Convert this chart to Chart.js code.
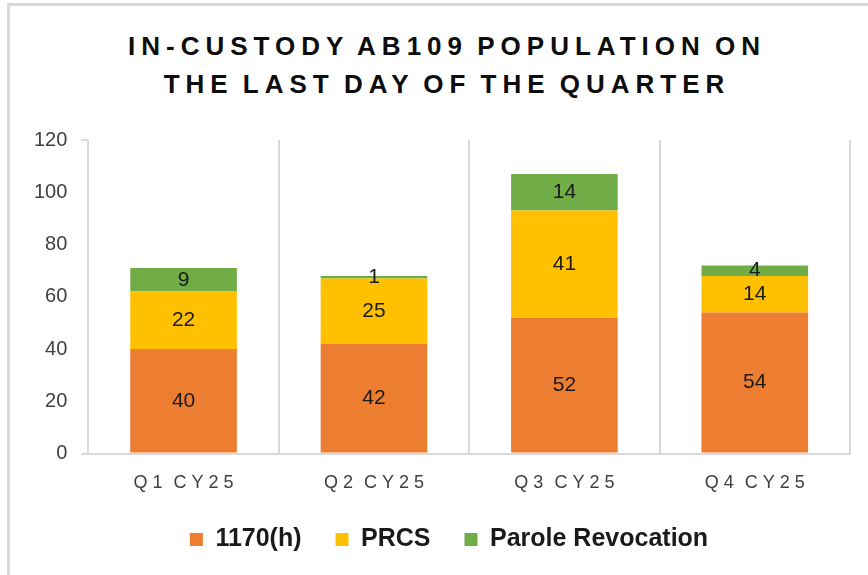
<!DOCTYPE html>
<html lang="en">
<head>
    <meta charset="utf-8">
    <script src="https://cdn.jsdelivr.net/npm/chart.js"></script>
    <title>In-Custody AB109 Population</title>
    <style>
        html, body {
            margin: 0;
            padding: 0;
            background: #fff;
        }
        .wrap {
            position: relative;
            width: 868px;
            height: 575px;
            overflow: hidden;
        }
        .frame {
            position: absolute;
            left: 7px;
            top: 3px;
            width: 900px;
            height: 600px;
            border-left: 3px solid #d9d9d9;
            border-top: 3px solid #d9d9d9;
        }
        #title {
            position: absolute;
            left: 0;
            top: 27px;
            width: 888px;
            text-align: center;
            font-family: "Liberation Sans", Arial, sans-serif;
            font-weight: bold;
            font-size: 26px;
            line-height: 38px;
            letter-spacing: 6px;
            word-spacing: -4px;
            padding-left: 6px;
            box-sizing: border-box;
            color: #0d0d0d;
        }
        canvas {
            position: absolute;
            left: 0;
            top: 0;
        }
    </style>
</head>
<body>
<div class="wrap">
    <div class="frame"></div>
    <div id="title">IN-CUSTODY AB109 POPULATION ON<br>THE LAST DAY OF THE QUARTER</div>
    <canvas id="popChart" width="868" height="575"></canvas>
</div>

<script>
    // data
    const quarters = ['Q1 CY25', 'Q2 CY25', 'Q3 CY25', 'Q4 CY25'];
    const data1170h = [40, 42, 52, 54];
    const dataPRCS = [22, 25, 41, 14];
    const dataParole = [9, 1, 14, 4];
    const yTicks = [0, 20, 40, 60, 80, 100, 120];

    const gridColor = '#d9d9d9';
    const textColor = '#404040';
    const fontFamily = '"Liberation Sans", Arial, sans-serif';

    // value labels in the middle of each segment + letter-spaced category labels
    const barLabels = {
        id: 'barLabels',
        afterLayout(chart) {
            // legend sits a little right of the canvas centre in the original
            chart.legend.left += 14;
            chart.legend.right += 14;
        },
        afterDatasetsDraw(chart) {
            const ctx = chart.ctx;
            ctx.save();
            ctx.font = '21px ' + fontFamily;
            ctx.fillStyle = '#1a1a1a';
            ctx.textAlign = 'center';
            ctx.textBaseline = 'middle';
            chart.data.datasets.forEach((ds, i) => {
                chart.getDatasetMeta(i).data.forEach((bar, j) => {
                    ctx.fillText(ds.data[j], bar.x, (bar.y + bar.base) / 2);
                });
            });

            const xs = chart.scales.x;
            ctx.font = '18px ' + fontFamily;
            ctx.letterSpacing = '5px';
            ctx.wordSpacing = '-4px';
            ctx.fillStyle = textColor;
            quarters.forEach((q, i) => {
                ctx.fillText(q, xs.getPixelForValue(i) + 2.5, chart.chartArea.bottom + 29);
            });
            ctx.restore();
        }
    };

    const ctx = document.getElementById('popChart').getContext('2d');
    const popChart = new Chart(ctx, {
        type: 'bar',
        data: {
            labels: quarters,
            datasets: [
                { label: '1170(h)', data: data1170h, backgroundColor: '#ED7D31' },
                { label: 'PRCS', data: dataPRCS, backgroundColor: '#FFC000' },
                { label: 'Parole Revocation', data: dataParole, backgroundColor: '#70AD47' }
            ]
        },
        options: {
            responsive: false,
            animation: false,
            categoryPercentage: 1,
            barPercentage: 0.56,
            layout: {
                padding: { top: 140, left: 20, right: 18, bottom: 13 }
            },
            plugins: {
                title: { display: false },
                tooltip: { enabled: false },
                legend: {
                    position: 'bottom',
                    labels: {
                        boxWidth: 13,
                        boxHeight: 13,
                        padding: 34,
                        color: '#1a1a1a',
                        font: { family: fontFamily, size: 25, weight: 'bold' }
                    }
                }
            },
            scales: {
                x: {
                    stacked: true,
                    grid: {
                        offset: true,
                        color: gridColor,
                        lineWidth: 2,
                        drawTicks: false
                    },
                    border: { display: true, color: gridColor, width: 2 },
                    ticks: {
                        color: 'rgba(0,0,0,0)',
                        padding: 9.5,
                        font: { family: fontFamily, size: 17 }
                    }
                },
                y: {
                    stacked: true,
                    min: 0,
                    max: 120,
                    afterBuildTicks: (axis) => {
                        axis.ticks = yTicks.map(v => ({ value: v }));
                    },
                    grid: {
                        drawOnChartArea: false,
                        tickLength: 7,
                        lineWidth: 2,
                        tickColor: (c) => (c.tick && (c.tick.value === 0 || c.tick.value === 120)) ? gridColor : 'rgba(0,0,0,0)'
                    },
                    border: { display: false },
                    ticks: {
                        color: textColor,
                        padding: 14,
                        font: { family: fontFamily, size: 20 }
                    }
                }
            }
        },
        plugins: [barLabels]
    });
</script>
</body>
</html>
